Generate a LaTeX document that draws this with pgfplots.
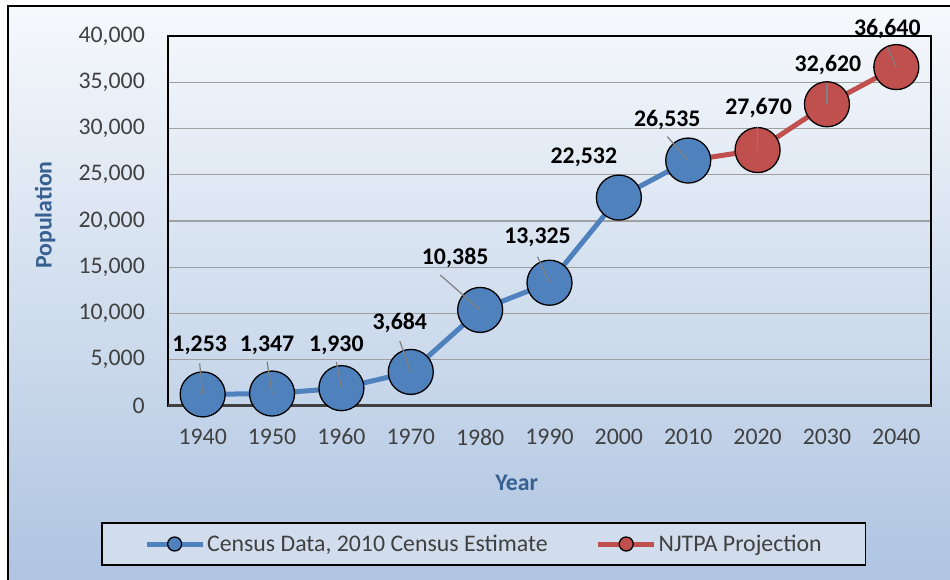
\documentclass[border=0pt]{standalone}
\usepackage{pgfplots}
\pgfplotsset{compat=1.18}
\usepackage{pgfplotstable}
\usepackage{fontspec}
\setmainfont{Carlito}

\definecolor{serblue}{RGB}{79,129,189}
\definecolor{serred}{RGB}{192,80,77}
\definecolor{titleblue}{RGB}{55,96,146}
\definecolor{ticktext}{RGB}{64,64,64}
\definecolor{gridgray}{RGB}{160,160,160}
\definecolor{leadgray}{RGB}{128,128,128}
\definecolor{bgtop}{RGB}{246,249,252}
\definecolor{bgmid}{RGB}{203,217,235}
\definecolor{bgbot}{RGB}{174,196,225}
\definecolor{legfill}{RGB}{209,221,236}

% label offsets (pt) from each point
\pgfplotstableread{
x    y     dx  dy
1940 1253  -3  49
1950 1347  -5  48
1960 1930  -5  43
1970 3684  -11 49
1980 10385 -25 52
1990 13325 -12 45
2000 22532 -35 40
2010 26535 -21 41
2020 27670 1   42
2030 32620 1   39
2040 36640 -9  38
}\labeltab

% leader lines, vector in pt from each point
\pgfplotstableread{
x    y     lu   lv
1940 1253  -3   31
1950 1347  -5   32
1960 1930  -5   26
1970 3684  -11  31
1980 10385 -40  35
1990 13325 -12  26
2010 26535 -21  24
2020 27670 0    23
2030 32620 0    21
2040 36640 -9   20
}\leadtab

\newcommand{\chartfont}{\fontsize{23.8}{28}\selectfont}

\begin{document}
\begin{tikzpicture}
\useasboundingbox (0pt,0pt) rectangle (950pt,580pt);
\fill[white] (0pt,0pt) rectangle (950pt,580pt);
\shade[top color=bgtop, middle color=bgmid, bottom color=bgbot] (8pt,-5pt) rectangle (960pt,574pt);
\draw[black, line width=2pt] (8pt,-5pt) rectangle (960pt,574pt);

\begin{axis}[
    at={(168pt,174pt)}, anchor=south west,
    scale only axis, width=763pt, height=370pt,
    xmin=1935, xmax=2045, ymin=0, ymax=40000,
    xtick={1940,1950,...,2040},
    ytick={0,5000,...,40000},
    scaled y ticks=false,
    /pgf/number format/assume math mode=true,
    major tick length=0pt,
    tick style={draw=none},
    ymajorgrids,
    major grid style={color=gridgray, line width=1.2pt},
    extra y ticks={0},
    extra y tick labels={},
    extra y tick style={grid=major, major grid style={color=ticktext, line width=3pt}},
    axis line style={black, line width=1.3pt},
    tick label style={font=\chartfont, text=ticktext},
    xticklabel style={anchor=center, yshift=-31pt, /pgf/number format/1000 sep={}},
    yticklabel style={anchor=east, inner sep=0pt, xshift=-23pt, /pgf/number format/1000 sep={,}},
    xlabel={Year}, ylabel={Population},
    label style={font=\chartfont\bfseries, text=titleblue},
    xlabel style={at={(axis description cs:0.457,-0.208)}, anchor=center},
    ylabel style={at={(axis description cs:-0.161,0.516)}, anchor=center},
    clip=false,
    legend columns=2,
    legend style={at={(axis description cs:0.414,-0.373)}, anchor=center,
        draw=black, line width=1.3pt, fill=legfill, font=\chartfont, text=ticktext,
        inner xsep=42pt, inner ysep=10pt,
        nodes={inner xsep=2pt},
        /tikz/every even column/.append style={column sep=46pt}},
    legend image code/.code={%
        \draw[#1, mark size=7pt, mark repeat=2, mark phase=2]
            plot coordinates {(0pt,0pt) (28pt,0pt) (56pt,0pt)};},
]

\addplot[serred, line width=5pt, forget plot] coordinates {(2010,26535) (2020,27670)};

\addplot[serblue, line width=5pt, mark=*, mark size=22.5pt,
    mark options={fill=serblue, draw=black, line width=1.3pt}] coordinates {
    (1940,1253) (1950,1347) (1960,1930) (1970,3684) (1980,10385)
    (1990,13325) (2000,22532) (2010,26535)
};
\addlegendentry{Census Data, 2010 Census Estimate}

\addplot[serred, line width=5pt, mark=*, mark size=22.5pt,
    mark options={fill=serred, draw=black, line width=1.3pt}] coordinates {
    (2020,27670) (2030,32620) (2040,36640)
};
\addlegendentry{NJTPA Projection}

% leader lines, drawn as marks so that they sit on top of the circles
\addplot[forget plot, draw=none, scatter, mark=*, mark size=0pt,
    visualization depends on={\thisrow{lu}\as\leadu},
    visualization depends on={\thisrow{lv}\as\leadv},
    scatter/@pre marker code/.code={%
        \draw[leadgray, line width=1.2pt] (0pt,0pt) -- (\leadu pt,\leadv pt);},
    scatter/@post marker code/.code={}]
    table {\leadtab};

\addplot[forget plot, draw=none, mark=none, nodes near coords, point meta=y,
    visualization depends on={\thisrow{dx}\as\labdx},
    visualization depends on={\thisrow{dy}\as\labdy},
    every node near coord/.append style={anchor=center, xshift=\labdx pt, yshift=\labdy pt,
        font=\chartfont\bfseries, text=black, /pgf/number format/1000 sep={,}}]
    table {\labeltab};
\end{axis}
\end{tikzpicture}
\end{document}
